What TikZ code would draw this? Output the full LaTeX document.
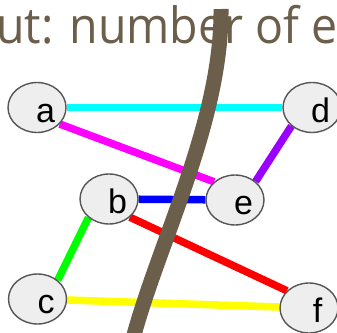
\documentclass[tikz,border=0pt]{standalone}
\usepackage{fontspec}
\setmainfont{Liberation Sans}
\newfontfamily\titlefont[FakeStretch=0.93]{Open Sans}
\usetikzlibrary{backgrounds, shapes.geometric}
\definecolor{cutBrown}{HTML}{6B5E4A}
\definecolor{nodeFill}{HTML}{EEEEEE}
\definecolor{nodeLine}{HTML}{555555}
\definecolor{edgeCyan}{HTML}{00FFFF}
\definecolor{edgeMagenta}{HTML}{FF00FF}
\definecolor{edgePurple}{HTML}{9900FF}
\definecolor{edgeBlue}{HTML}{0000FF}
\definecolor{edgeRed}{HTML}{FF0000}
\definecolor{edgeGreen}{HTML}{00FF00}
\definecolor{edgeYellow}{HTML}{FFFF00}
\tikzset{
  vertex/.style={
    ellipse, draw=nodeLine, fill=nodeFill, line width=1.4pt,
    minimum width=58pt, minimum height=50pt, inner sep=0pt,
    font=\fontsize{34}{34}\selectfont, text height=29pt, text depth=0pt
  },
  link/.style={draw=#1, line width=7.5pt},
  cutline/.style={draw=cutBrown, line width=15pt},
  title/.style={
    font=\titlefont\fontsize{50}{50}\selectfont, text=cutBrown,
    anchor=base west, inner sep=0pt
  }
}

\begin{document}
\begin{tikzpicture}[x=1pt, y=-1pt]
  \useasboundingbox (0,0) rectangle (337,332);
  \clip (0,0) rectangle (337,332);
  \node[title] (caption) at (-4,43) {ut: number of e};
  \node[vertex] (a) at (37,107.5) {\hspace*{17pt}a};
  \node[vertex] (d) at (312,107.5) {\hspace*{17pt}d};
  \node[vertex] (b) at (109,199) {\hspace*{17pt}b};
  \node[vertex] (e) at (235,200) {\hspace*{17pt}e};
  \node[vertex] (c) at (37.5,299) {\hspace*{17pt}c};
  \node[vertex] (f) at (309,308) {\hspace*{17pt}f};
  \begin{scope}[on background layer]
    \draw[link=edgeCyan] (a) -- (d);
    \draw[link=edgeMagenta] (a.-36) -- (e.139);
    \draw[link=edgePurple] (d.-138) -- (e.42);
    \draw[link=edgeBlue] (b) -- (e);
    \draw[link=edgeRed] (b.-41) -- (f.142);
    \draw[link=edgeGreen] (b.-138) -- (c.43);
    \draw[link=edgeYellow] (c) -- (f);
  \end{scope}
  % the cut through the graph
  \coordinate (cuttop) at (221,9);
  \coordinate (cutbot) at (134,335);
  \draw[cutline] (cuttop) .. controls (222,120) and (160,240) .. (cutbot);
\end{tikzpicture}
\end{document}
